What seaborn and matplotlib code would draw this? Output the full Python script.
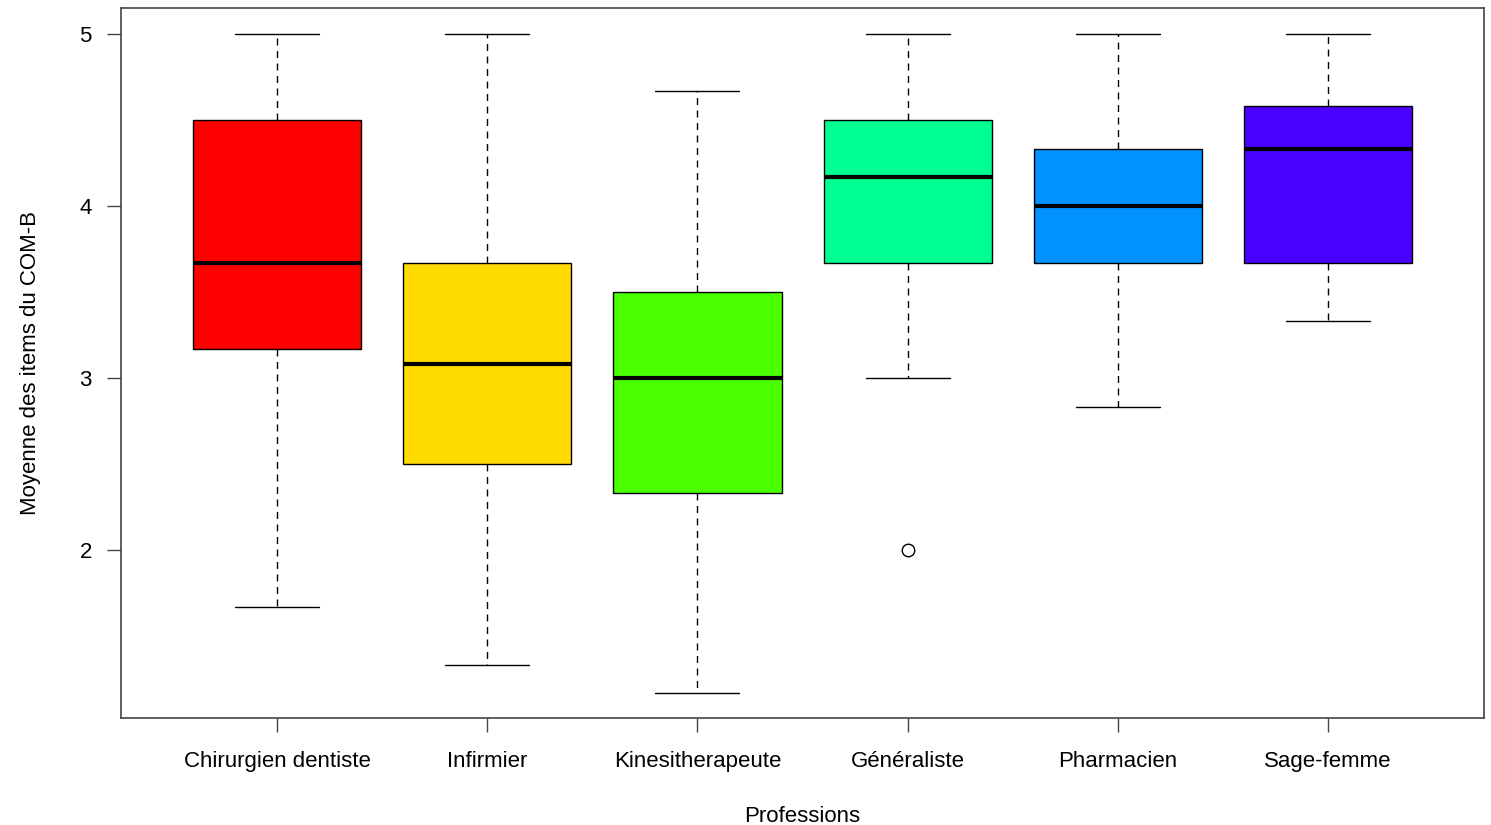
import numpy as np
import pandas as pd
import matplotlib.pyplot as plt
import seaborn as sns

professions = ["Chirurgien dentiste", "Infirmier", "Kinesitherapeute",
               "Généraliste", "Pharmacien", "Sage-femme"]
# values: min, Q1, median, Q3, max (plus the one outlier)
chirurgien = [1.667, 3.167, 3.667, 4.5, 5.0]
infirmier = [1.333, 2.5, 3.083, 3.667, 5.0]
kine = [1.167, 2.333, 3.0, 3.5, 4.667]
generaliste = [2.0, 3.0, 3.667, 4.0, 4.167, 4.333, 4.5, 5.0, 5.0]
pharmacien = [2.833, 3.667, 4.0, 4.333, 5.0]
sage_femme = [3.333, 3.667, 4.333, 4.583, 5.0]
colors = ["#FF0000", "#FFDB00", "#49FF00", "#00FF92", "#0092FF", "#4900FF"]

groups = [chirurgien, infirmier, kine, generaliste, pharmacien, sage_femme]
df = pd.DataFrame({
    "profession": np.repeat(professions, [len(g) for g in groups]),
    "score": np.concatenate(groups),
})

sns.set_style("white")
plt.rcParams["font.family"] = ["Liberation Sans", "DejaVu Sans"]
plt.rcParams["text.color"] = "black"
plt.rcParams["axes.labelcolor"] = "black"
plt.rcParams["xtick.color"] = "black"
plt.rcParams["ytick.color"] = "black"

fig = plt.figure(figsize=(14.91, 8.25), dpi=100)
ax = fig.add_axes([0.0812, 0.1297, 0.9141, 0.8606])

sns.boxplot(data=df, x="profession", y="score", hue="profession",
            order=professions, hue_order=professions, palette=colors,
            saturation=1, legend=False, width=0.8, whis=1.5,
            linecolor="black", linewidth=1, ax=ax,
            boxprops=dict(edgecolor="black", linewidth=1),
            whiskerprops=dict(color="black", linestyle=(0, (5, 4)), linewidth=1),
            capprops=dict(color="black", linewidth=1),
            medianprops=dict(color="black", linewidth=3),
            flierprops=dict(marker="o", markerfacecolor="none",
                            markeredgecolor="black", markersize=9,
                            markeredgewidth=1))

ax.set_xlim(-0.742, 5.742)
ax.set_ylim(1.023, 5.151)
ax.set_yticks([2, 3, 4, 5])
ax.set_yticklabels(["2", "3", "4", "5"])
for s in ax.spines.values():
    s.set_visible(True)
    s.set_color("#444444")
    s.set_linewidth(1.2)
ax.tick_params(axis="both", direction="out", length=10, width=1,
               color="#444444", labelsize=16, labelcolor="black",
               bottom=True, left=True)
ax.tick_params(axis="x", pad=14)
ax.tick_params(axis="y", pad=11)
ax.set_xlabel("Professions", fontsize=16, labelpad=24)
ax.set_ylabel("Moyenne des items du COM-B", fontsize=16, labelpad=28)

fig.savefig("out.png", dpi=100)
